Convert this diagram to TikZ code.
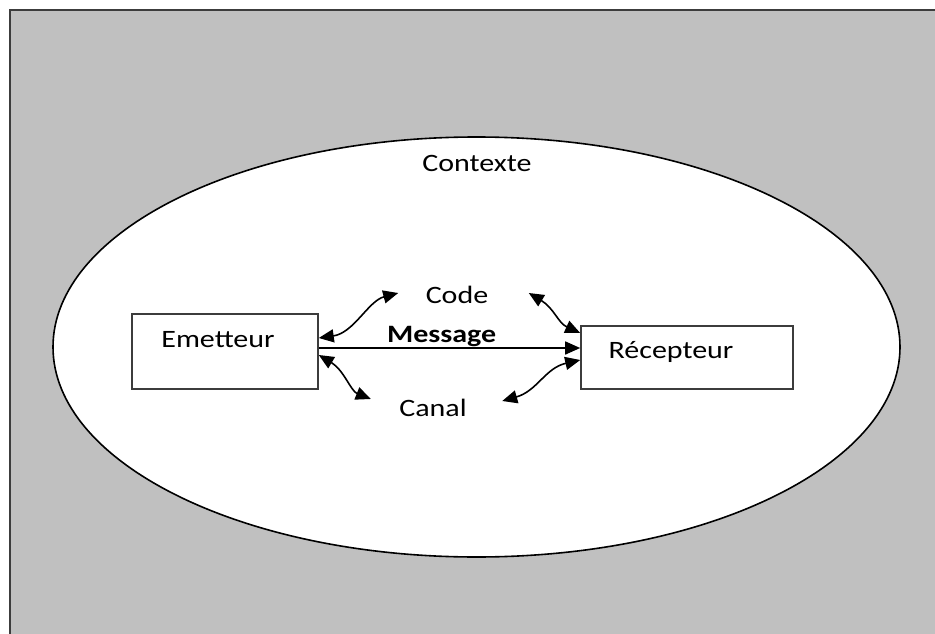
\documentclass[tikz,border=0pt]{standalone}
\usepackage{fontspec}
\setmainfont{Carlito}[FakeStretch=1.2]
\usepackage{tikz}
\usetikzlibrary{arrows.meta}
\definecolor{fondgris}{RGB}{192,192,192}
\definecolor{traitgris}{RGB}{60,60,60}

\begin{document}
\begin{tikzpicture}[x=1pt,y=-1pt,
  every node/.style={font=\fontsize{25}{30}\selectfont},
  boite/.style={draw=traitgris, line width=1.6pt, fill=white, inner sep=0pt},
  fleche/.style={line width=1.6pt, {Triangle[length=15pt,width=13pt]}-{Triangle[length=15pt,width=13pt]}}]
\useasboundingbox (0,0) rectangle (935,634);
\clip (0,0) rectangle (935,634);
% fond et contexte
\draw[fill=fondgris, draw=traitgris, line width=2pt] (10,10) rectangle (945,644);
\draw[fill=white, line width=1.6pt] (476.5,347) ellipse [x radius=423.5, y radius=210];
\node (contexte) at (477,163) {Contexte};
% emetteur et recepteur
\node[boite, minimum width=186pt, minimum height=75pt,
  label={[xshift=-7pt,yshift=11.5pt]center:Emetteur}] (emetteur) at (225,351.5) {};
\node[boite, minimum width=212pt, minimum height=63pt,
  label={[xshift=-16pt,yshift=5.5pt]center:Récepteur}] (recepteur) at (687,357.5) {};
\node (code) at (457,295) {Code};
\node (canal) at (433,408) {Canal};
% message
\draw[line width=1.6pt, -{Triangle[length=15pt,width=13pt]}] ([yshift=3.5pt]emetteur.east)
  -- node[above, inner sep=0pt, pos=0.47] (message) {\bfseries Message} ([yshift=9.5pt]recepteur.west);
% fleches courbes
\draw[fleche] ([yshift=13.5pt]emetteur.east) .. controls +(35,-5) and +(-30,8) .. ([xshift=-24pt,yshift=2pt]code.west);
\draw[fleche] ([xshift=37pt,yshift=2pt]code.east) .. controls +(25,15) and +(-22,-10) .. ([yshift=24.5pt]recepteur.west);
\draw[fleche] ([yshift=-3.5pt]emetteur.east) .. controls +(25,15) and +(-20,-8) .. ([xshift=-25pt,yshift=9pt]canal.west);
\draw[fleche] ([yshift=-2.5pt]recepteur.west) .. controls +(-35,8) and +(35,-10) .. ([xshift=32pt,yshift=7pt]canal.east);
\end{tikzpicture}
\end{document}
